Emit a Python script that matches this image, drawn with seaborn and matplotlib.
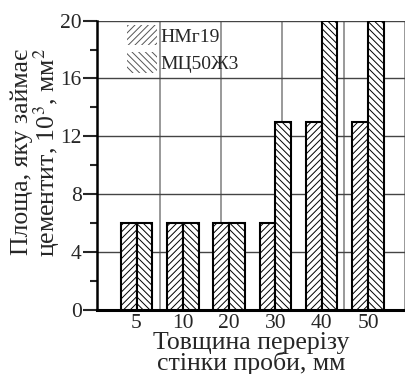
import matplotlib
matplotlib.use("Agg")
import matplotlib.pyplot as plt
from matplotlib.patches import Patch
from matplotlib.ticker import MultipleLocator
import seaborn as sns
import pandas as pd

# data
thickness = ["5", "10", "20", "30", "40", "50"]
series_names = ["НМг19", "МЦ50Ж3"]
nmg19 = [6, 6, 6, 6, 13, 13]
mts50 = [6, 6, 6, 13, 20, 20]
y_ticks = [0, 4, 8, 12, 16, 20]

df = pd.DataFrame({
    "thickness": thickness * 2,
    "area": nmg19 + mts50,
    "alloy": [series_names[0]] * len(thickness) + [series_names[1]] * len(thickness),
})

sns.set_style("white")
plt.rcParams["font.family"] = ["Liberation Serif", "DejaVu Serif"]
plt.rcParams["hatch.linewidth"] = 0.7
plt.rcParams["mathtext.fontset"] = "stix"

fig = plt.figure(figsize=(4.06, 3.74), dpi=100)
ax = fig.add_axes([0.239, 0.171, 0.761, 0.774])

sns.barplot(data=df, x="thickness", y="area", hue="alloy", order=thickness,
            hue_order=series_names, width=0.68, ax=ax, legend=False,
            palette=["white", "white"], edgecolor="black", linewidth=1.5,
            saturation=1)

hatches = ["/////", "\\\\\\\\\\"]
n = len(thickness)
for i, bar in enumerate(ax.patches[:2 * n]):
    bar.set_hatch(hatches[i // n])
    bar.set_zorder(3)

ax.set_ylim(0, 20)
ax.set_xlim(-0.853, 5.82)
ax.set_yticks(y_ticks)
ax.yaxis.set_minor_locator(MultipleLocator(2))
ax.tick_params(axis="y", which="major", direction="out", length=10, width=1.5,
               labelsize=15.5, left=True, pad=1)
ax.tick_params(axis="y", which="minor", direction="out", length=5, width=1.5, left=True)
ax.tick_params(axis="x", length=0, labelsize=15.5, pad=3)

ax.yaxis.grid(True, which="major", color="#444444", linewidth=1.0, zorder=0)
ax.set_axisbelow(True)
grid_x = [0.508, 1.825, 3.143, 4.482, 5.80]
for gx in grid_x:
    ax.axvline(gx, color="#888888", linewidth=1.2, zorder=0)

for side in ["top", "right"]:
    ax.spines[side].set_visible(False)
ax.spines["left"].set_linewidth(1.8)
ax.spines["bottom"].set_linewidth(2.2)
ax.spines["left"].set_color("black")
ax.spines["bottom"].set_color("black")

ax.set_ylabel("Площа, яку займає\nцементит, 10$^3$, мм$^2$", fontsize=18.5,
              linespacing=0.95)
ax.yaxis.set_label_coords(-0.112, 0.545)
ax.set_xlabel("Товщина перерізу\nстінки проби, мм", fontsize=18.5,
              linespacing=0.88, labelpad=-1)

handles = [Patch(facecolor="white", edgecolor="#555555", linewidth=0, hatch=h)
           for h in hatches]
ax.legend(handles, series_names, loc="upper left", bbox_to_anchor=(0.097, 0.985),
          frameon=False, fontsize=14, handlelength=1.55, handleheight=1.24,
          handletextpad=0.15, borderpad=0, borderaxespad=0, labelspacing=0.35)

fig.savefig("out.png", dpi=100)
